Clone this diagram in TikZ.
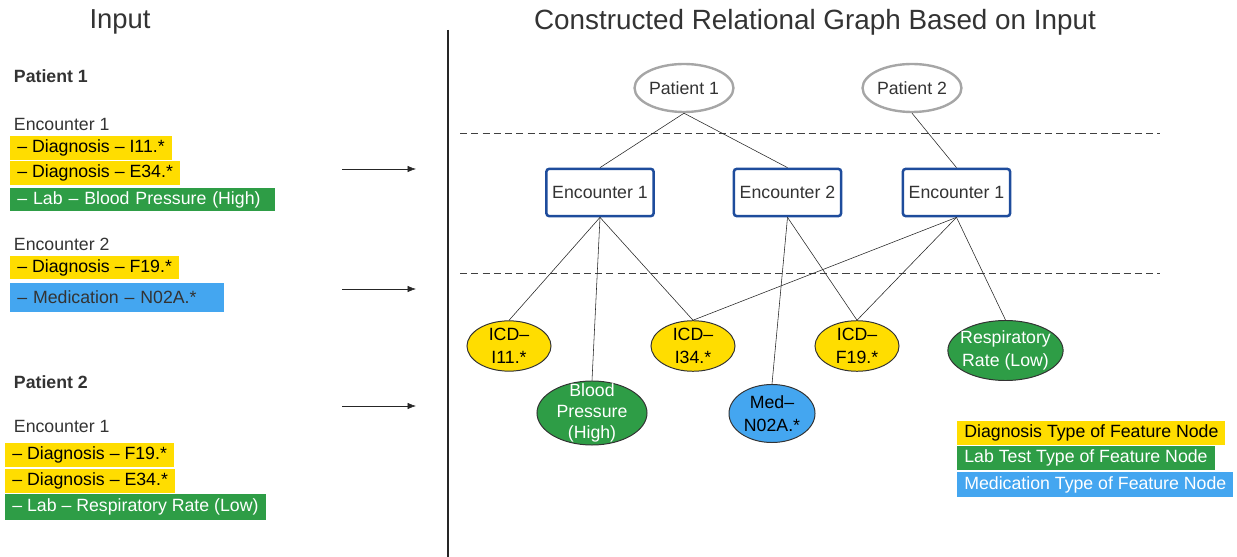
\documentclass[tikz,border=0pt]{standalone}
\usepackage{fontspec}
\setmainfont{Liberation Sans}
\usetikzlibrary{arrows.meta, positioning, shapes.geometric}

\definecolor{diagyellow}{HTML}{FFDD00}
\definecolor{labgreen}{HTML}{2E9D46}
\definecolor{medblue}{HTML}{44A6F0}
\definecolor{encblue}{HTML}{1E4C9C}
\definecolor{txtgray}{HTML}{333333}

\tikzset{
  tag/.style={anchor=west, inner xsep=5pt, inner ysep=0pt, minimum height=0.58cm},
  diagtag/.style={tag, fill=diagyellow, text=black},
  labtag/.style={tag, fill=labgreen, text=white},
  medtag/.style={tag, fill=medblue},
  patient/.style={ellipse, draw=gray!70, line width=1.7pt, minimum width=2.35cm, minimum height=1.2cm, inner sep=0pt},
  encounter/.style={rectangle, rounded corners=2pt, draw=encblue, line width=1.8pt, minimum width=2.68cm, minimum height=1.18cm, fill=white},
  feat/.style={ellipse, draw=black!80, line width=0.7pt, inner sep=0pt, align=center, font=\fontsize{12.6}{16.5}\selectfont},
  icd/.style={feat, fill=diagyellow, text=black, minimum width=2.1cm, minimum height=1.18cm},
}

\begin{document}
\begin{tikzpicture}[x=0.025cm, y=-0.025cm, font=\fontsize{12.6}{14}\selectfont, text=txtgray]
    \useasboundingbox (0,0) rectangle (1237,557);

    % titles and divider
    \node (intitle) at (120,22) {\fontsize{19.5}{22}\selectfont Input};
    \node (graphtitle) at (815,22) {\fontsize{19.8}{22}\selectfont Constructed Relational Graph Based on Input};
    \draw[line width=1pt, black!85] (448,30) -- (448,557);

    % Input: patient 1
    \node[anchor=west, font=\fontsize{12.6}{14}\selectfont\bfseries] (inp1) at (9,76) {Patient 1};
    \node[anchor=west] (inp1e1) at (9,124) {Encounter 1};
    \node[diagtag] (t1) at (10,148) {– Diagnosis – I11.*};
    \node[diagtag] (t2) at (10,173) {– Diagnosis – E34.*};
    \node[labtag, text width=6.27cm, align=left] (t3) at (10,199.5) {– Lab – Blood Pressure (High)};
    \node[anchor=west] (inp1e2) at (9,244) {Encounter 2};
    \node[diagtag] (t4) at (10,267.5) {– Diagnosis – F19.*};
    \node[medtag, minimum height=0.72cm, text width=5cm, align=left] (t5) at (10,297.5) {– Medication – N02A.*};

    % Input: patient 2
    \node[anchor=west, font=\fontsize{12.6}{14}\selectfont\bfseries] (inp2) at (9,382) {Patient 2};
    \node[anchor=west] (inp2e1) at (9,426) {Encounter 1};
    \node[diagtag] (t6) at (5,455) {– Diagnosis – F19.*};
    \node[diagtag] (t7) at (5,481) {– Diagnosis – E34.*};
    \node[labtag, minimum height=0.64cm] (t8) at (5,507) {– Lab – Respiratory Rate (Low)};

    % arrows
    \coordinate (a1s) at (342,169);
    \coordinate (a1e) at (416,169);
    \coordinate (a2s) at (342,289);
    \coordinate (a2e) at (416,289);
    \coordinate (a3s) at (342,406);
    \coordinate (a3e) at (416,406);
    \foreach \a in {1,2,3}
        \draw[-{Latex[length=6pt,width=4.5pt]}, black!85] (a\a s) -- (a\a e);

    % level separators
    \draw[dash pattern=on 5pt off 3pt, black!75] (460,133) -- (1160,133);
    \draw[dash pattern=on 5pt off 3pt, black!75] (460,273) -- (1160,273);

    % patients
    \node[patient] (p1) at (684,88) {Patient 1};
    \node[patient] (p2) at (912,88) {Patient 2};

    % encounters
    \node[encounter] (e1) at (600,192.5) {Encounter 1};
    \node[encounter] (e2) at (787.5,192.5) {Encounter 2};
    \node[encounter] (e3) at (956.5,192.5) {Encounter 1};

    % feature nodes
    \node[icd] (i11) at (509,346) {ICD–\\I11.*};
    \node[icd] (i34) at (693,346) {ICD–\\I34.*};
    \node[icd] (f19) at (857,346) {ICD–\\F19.*};
    \node[feat, fill=labgreen, text=white, inner ysep=-7pt, minimum width=2.75cm, minimum height=1.6cm,
        font=\fontsize{12.6}{14.8}\selectfont] (bp) at (592,413) {Blood\\Pressure\\(High)};
    \node[feat, fill=medblue, text=black, minimum width=2.15cm, minimum height=1.45cm] (med) at (772,413.5) {Med–\\N02A.*};
    \node[feat, fill=labgreen, text=white, inner xsep=-5pt, minimum width=2.88cm, minimum height=1.5cm] (resp) at (1005.5,350.5) {Respiratory\\Rate (Low)};

    % edges
    \draw[black!85] (p1.south) -- (e1.north);
    \draw[black!85] (p1.south) -- (e2.north);
    \draw[black!85] (p2.south) -- (e3.north);
    \draw[black!85] (e1.south) -- (i11.north);
    \draw[black!85] (e1.south) -- (bp.north);
    \draw[black!85] (e1.south) -- (i34.north);
    \draw[black!85] (e2.south) -- (med.north);
    \draw[black!85] (e2.south) -- (f19.north);
    \draw[black!85] (e3.south) -- (i34.north);
    \draw[black!85] (e3.south) -- (f19.north);
    \draw[black!85] (e3.south) -- (resp.north);

    % legend
    \node[diagtag] (lg1) at (957,433) {Diagnosis Type of Feature Node};
    \node[labtag] (lg2) at (957,458) {Lab Test Type of Feature Node};
    \node[medtag, text=white, minimum height=0.62cm] (lg3) at (957,484.5) {Medication Type of Feature Node};
\end{tikzpicture}
\end{document}
